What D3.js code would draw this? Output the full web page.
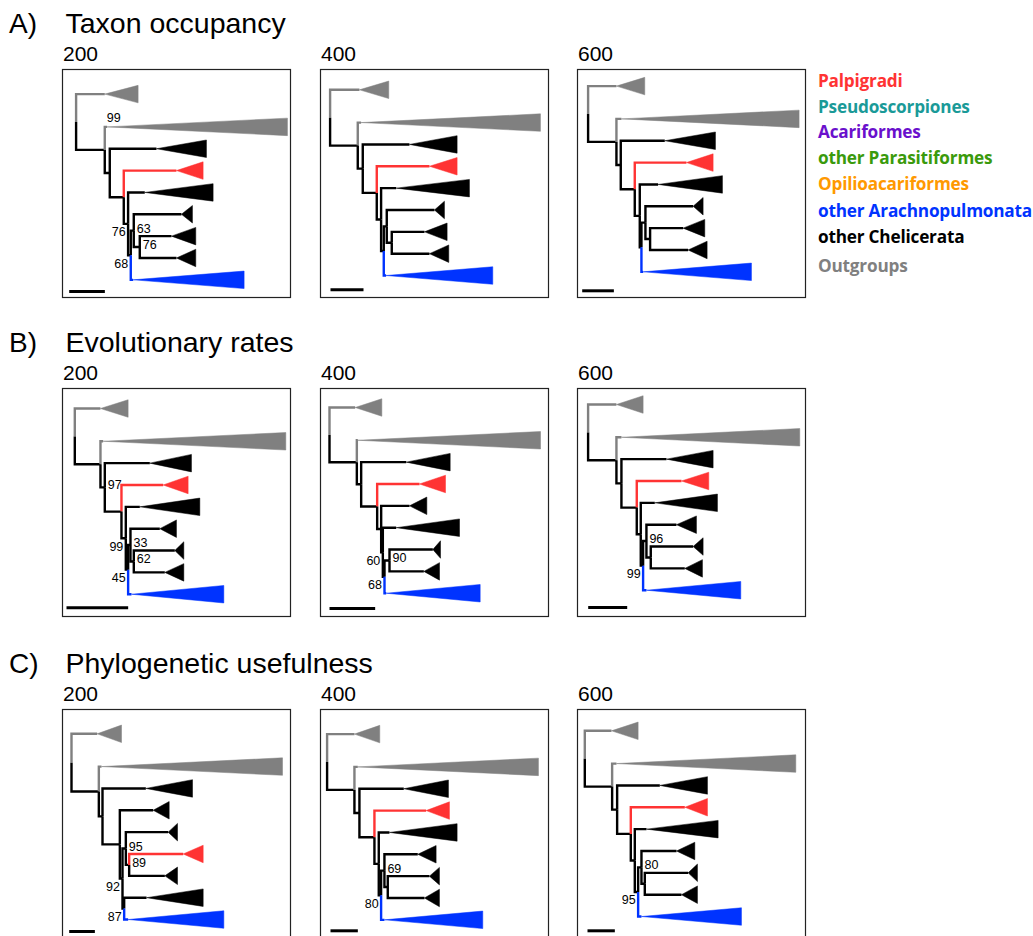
<!DOCTYPE html>
<html><head><meta charset="utf-8">
<script src="https://cdn.jsdelivr.net/npm/d3@7"></script>
<style>body{margin:0;background:#fff}svg{display:block}</style>
</head><body>
<script>
// ---------------- DATA ----------------
const rowLetters = ["A)", "B)", "C)"];
const rowTitles = ["Taxon occupancy", "Evolutionary rates", "Phylogenetic usefulness"];
const colTitles = ["200", "400", "600"];

const legendLabels = ["Palpigradi", "Pseudoscorpiones", "Acariformes", "other Parasitiformes",
  "Opilioacariformes", "other Arachnopulmonata", "other Chelicerata", "Outgroups"];
const legendColors = ["#ff3333", "#1a9a98", "#6a10cc", "#3a9a0c", "#ff9900", "#0033ff", "#000000", "#808080"];

// collapsed clades (triangles) and the group each belongs to
const clades = ["OG1", "OG2", "K1", "K2", "K3", "K4", "K5", "PAL", "ARA"];
const cladeGroups = ["Outgroups", "Outgroups", "other Chelicerata", "other Chelicerata", "other Chelicerata",
  "other Chelicerata", "other Chelicerata", "Palpigradi", "other Arachnopulmonata"];

// trees (branch lengths, relative units); clade depths follow the "clades" order
const newickA200 = "(OG1:0.086,(OG2:0.007,(K1:0.140,(PAL:0.158,(K2:0.050,((K3:0.143,(K4:0.095,K5:0.110)n7:0.018)n6:0.009,ARA:0.007)n5:0.008)n4:0.013)n3:0.042)n2:0.015)n1:0.086);";
const depthA200 = [0.100, 0.541, 0.150, 0.205, 0.033, 0.073, 0.058, 0.080, 0.333];
const barA200 = 0.107;
const supportA200 = [["OG2", "99", "E"], ["n4", "76", "L"], ["n5", "68", "L"], ["n6", "63", "R"], ["n7", "76", "R"]];

const newickA400 = "(OG1:0.088,(OG2:0.010,(K1:0.140,(PAL:0.158,(K2:0.045,((K3:0.143,(K4:0.098,K5:0.113)n7:0.015)n6:0.009,ARA:0.007)n5:0.008)n4:0.013)n3:0.042)n2:0.015)n1:0.083);";
const depthA400 = [0.088, 0.538, 0.143, 0.220, 0.030, 0.068, 0.058, 0.083, 0.320];
const barA400 = 0.099;
const supportA400 = [];

const newickA600 = "(OG1:0.085,(OG2:0.015,(K1:0.132,(PAL:0.155,(K2:0.055,((K3:0.143,(K4:0.099,K5:0.114)n7:0.014)n6:0.012,ARA:0.005)n5:0.005)n4:0.015)n3:0.042)n2:0.013)n1:0.085);";
const depthA600 = [0.085, 0.533, 0.152, 0.193, 0.030, 0.065, 0.057, 0.080, 0.325];
const barA600 = 0.095;
const supportA600 = [];

const newickB200 = "(OG1:0.077,(OG2:0.008,(K1:0.135,(PAL:0.125,(K2:0.042,((K3:0.088,(K4:0.123,K5:0.093)n7:0.010)n6:0.007,ARA:0.010)n5:0.007)n4:0.013)n3:0.050)n2:0.013)n1:0.077);";
const depthB200 = [0.083, 0.548, 0.125, 0.180, 0.050, 0.027, 0.057, 0.075, 0.277];
const barB200 = 0.185;
const supportB200 = [["n2", "97", "R"], ["n4", "99", "L"], ["n6", "33", "R"], ["n7", "62", "R"], ["n5", "45", "L"]];

const newickB400 = "(OG1:0.077,(OG2:0.003,(K1:0.135,(PAL:0.127,(K3:0.085,(K2:0.040,((K4:0.130,K5:0.103)n7:0.015,ARA:0.005)n6:0.005)n5:0.005)n4:0.012)n3:0.048)n2:0.013)n1:0.082);";
const depthB400 = [0.080, 0.548, 0.132, 0.190, 0.052, 0.023, 0.047, 0.078, 0.282];
const barB400 = 0.137;
const supportB400 = [["n5", "60", "L"], ["n7", "90", "R"], ["n6", "68", "L"]];

const newickB600 = "(OG1:0.085,(OG2:0.015,(K1:0.135,(PAL:0.134,(K2:0.042,((K3:0.090,(K4:0.127,K5:0.102)n7:0.013)n6:0.010,ARA:0.010)n5:0.007)n4:0.012)n3:0.046)n2:0.015)n1:0.085);";
const depthB600 = [0.080, 0.535, 0.140, 0.188, 0.060, 0.030, 0.053, 0.082, 0.283];
const barB600 = 0.117;
const supportB600 = [["n6", "96", "R"], ["n5", "99", "L"]];

const newickC200 = "(OG1:0.077,(OG2:0.008,(K1:0.130,(K2:0.100,((K3:0.127,(PAL:0.162,K4:0.107)n6:0.010)n5:0.010,(K5:0.067,ARA:0.012)n8:0.005)n4:0.008)n3:0.052)n2:0.011)n1:0.082);";
const depthC200 = [0.073, 0.543, 0.140, 0.048, 0.028, 0.038, 0.170, 0.060, 0.287];
const barC200 = 0.077;
const supportC200 = [["n5", "95", "R"], ["n6", "89", "R"], ["n4", "92", "L"], ["n8", "87", "L"]];

const newickC400 = "(OG1:0.082,(OG2:0.010,(K1:0.133,(PAL:0.155,(K2:0.032,((K3:0.100,(K4:0.125,K5:0.110)n7:0.010)n6:0.010,ARA:0.010)n5:0.007)n4:0.013)n3:0.045)n2:0.015)n1:0.082);";
const depthC400 = [0.076, 0.542, 0.134, 0.203, 0.055, 0.030, 0.045, 0.070, 0.295];
const barC400 = 0.082;
const supportC400 = [["n6", "69", "R"], ["n5", "80", "L"]];

const newickC600 = "(OG1:0.080,(OG2:0.013,(K1:0.128,(PAL:0.162,(K2:0.035,((K3:0.105,(K4:0.130,K5:0.110)n7:0.010)n6:0.010,ARA:0.010)n5:0.010)n4:0.012)n3:0.041)n2:0.015)n1:0.082);";
const depthC600 = [0.080, 0.538, 0.143, 0.215, 0.055, 0.028, 0.048, 0.068, 0.300];
const barC600 = 0.082;
const supportC600 = [["n6", "80", "R"], ["n5", "95", "L"]];

// ---------------- LAYOUT ----------------
const W = 1033, H = 936;
const frameX = [62.5, 320.5, 577.5];
const frameY = [69.5, 388.5, 709.5];
const frameSize = 228;
const pxPerUnit = 1000 / 3;
const leafStep = 21.85;
const triHalf = 8.75;
// per panel: root offset, first-leaf offset, scale-bar x, scale-bar y
const panelLayout = [
  [13.6, 24.6, 6.7, 222], [9.6, 20.3, 10, 220.3], [10.6, 16.6, 4.7, 221.3],
  [12.3, 20.0, 4.0, 219.3], [9.0, 19.0, 9.0, 220], [10.6, 16.0, 10.7, 219],
  [9.0, 24.3, 6.7, 222], [6.6, 24.6, 10, 221.3], [7.3, 21.3, 10, 221.3]
];

const panels = [
  [newickA200, depthA200, barA200, supportA200], [newickA400, depthA400, barA400, supportA400], [newickA600, depthA600, barA600, supportA600],
  [newickB200, depthB200, barB200, supportB200], [newickB400, depthB400, barB400, supportB400], [newickB600, depthB600, barB600, supportB600],
  [newickC200, depthC200, barC200, supportC200], [newickC400, depthC400, barC400, supportC400], [newickC600, depthC600, barC600, supportC600]
].map((p, i) => ({ newick: p[0], depth: p[1], bar: p[2], support: p[3], row: Math.floor(i / 3), col: i % 3, layout: panelLayout[i] }));

function parseNewick(s) {
  let i = 0;
  function node() {
    const n = {};
    if (s[i] === "(") {
      i++;
      n.children = [node()];
      while (s[i] === ",") { i++; n.children.push(node()); }
      i++;
    }
    let name = "";
    while (i < s.length && !",():;".includes(s[i])) name += s[i++];
    n.name = name;
    n.length = 0;
    if (s[i] === ":") {
      i++;
      let num = "";
      while (i < s.length && !",();".includes(s[i])) num += s[i++];
      n.length = +num;
    }
    return n;
  }
  return node();
}

const groupColor = g => legendColors[legendLabels.indexOf(g)];

const svg = d3.select("body").append("svg").attr("width", W).attr("height", H);
const FONT = "'Liberation Sans', Arial, Helvetica, sans-serif";

// row titles
rowLetters.forEach((l, r) => {
  const base = frameY[r] - 36.3;
  svg.append("text").attr("x", 9).attr("y", base).attr("font-family", FONT).attr("font-size", 28).text(l);
  svg.append("text").attr("x", 65.5).attr("y", base).attr("font-family", FONT).attr("font-size", 28.5).text(rowTitles[r]);
  colTitles.forEach((c, ci) => {
    svg.append("text").attr("x", frameX[ci] + 0.5).attr("y", frameY[r] - 8.5)
      .attr("font-family", FONT).attr("font-size", 21).text(c);
  });
});

panels.forEach(p => {
  const fx = frameX[p.col], fy = frameY[p.row];
  const [rootDx, topDy, barDx, barDy] = p.layout;
  const g = svg.append("g").attr("transform", `translate(${fx},${fy})`);
  const xs = d3.scaleLinear().domain([0, 1]).range([rootDx, rootDx + pxPerUnit]);
  const root = d3.hierarchy(parseNewick(p.newick));
  root.eachBefore(d => { d.bl = (d.parent ? d.parent.bl : 0) + (d.parent ? d.data.length : 0); });
  const leaves = root.leaves();
  const nSlots = leaves.length - 1 + 0.5;
  const ys = d3.scaleLinear().domain([0, nSlots]).range([topDy, topDy + nSlots * leafStep]);
  leaves.forEach((d, i) => { d.py = ys(i === 0 ? 0 : i + 0.5); });
  root.eachAfter(d => { if (d.children) d.py = (d.children[0].py + d.children[d.children.length - 1].py) / 2; });
  root.each(d => {
    d.px = xs(d.bl);
    if (!d.children) {
      const ci = clades.indexOf(d.data.name);
      d.color = groupColor(cladeGroups[ci]);
      d.baseX = xs(d.bl + p.depth[ci]);
    } else d.color = "#000";
  });

  // edges
  g.selectAll("path.edge").data(root.descendants().filter(d => d.parent)).join("path")
    .attr("class", "edge")
    .attr("d", d => `M${d.parent.px},${d.parent.py}V${d.py}H${d.px}`)
    .attr("fill", "none").attr("stroke", d => d.color).attr("stroke-width", 2.4)
    .attr("stroke-linejoin", "miter");

  // collapsed clades
  g.selectAll("path.tri").data(leaves).join("path")
    .attr("class", "tri")
    .attr("d", d => `M${d.px},${d.py}L${d.baseX},${d.py - triHalf}L${d.baseX},${d.py + triHalf}Z`)
    .attr("fill", d => d.color).attr("stroke", d => d.color).attr("stroke-width", 0.5);

  // support values
  const byName = new Map(root.descendants().map(d => [d.data.name, d]));
  p.support.forEach(([name, txt, side]) => {
    const d = byName.get(name);
    let x, y, anchor;
    if (side === "L") { x = d.px - 2.5; y = d.py + 12.5; anchor = "end"; }
    else if (side === "R") { x = d.px + 3; y = d.py + 2; anchor = "start"; }
    else { x = d.parent.px + 2; y = d.py - 5; anchor = "start"; }
    g.append("text").attr("x", x).attr("y", y).attr("text-anchor", anchor)
      .attr("font-family", FONT).attr("font-size", 12.5).text(txt);
  });

  // scale bar
  g.append("line").attr("x1", barDx).attr("x2", barDx + (xs(p.bar) - xs(0)))
    .attr("y1", barDy).attr("y2", barDy).attr("stroke", "#000").attr("stroke-width", 3);

  // frame
  g.append("rect").attr("x", 0).attr("y", 0).attr("width", frameSize).attr("height", frameSize)
    .attr("fill", "none").attr("stroke", "#222").attr("stroke-width", 1.2);
});

// legend
const legendY = [86.7, 112.6, 137.8, 163.6, 189.6, 216.6, 243.2, 272.4];
svg.append("g").selectAll("text").data(legendLabels).join("text")
  .attr("x", 818).attr("y", (d, i) => legendY[i])
  .attr("font-family", "'Open Sans', 'Noto Sans', sans-serif").attr("font-weight", 700)
  .attr("font-size", 17.2).attr("letter-spacing", -0.2).attr("fill", (d, i) => legendColors[i]).text(d => d);
</script>
</body></html>
